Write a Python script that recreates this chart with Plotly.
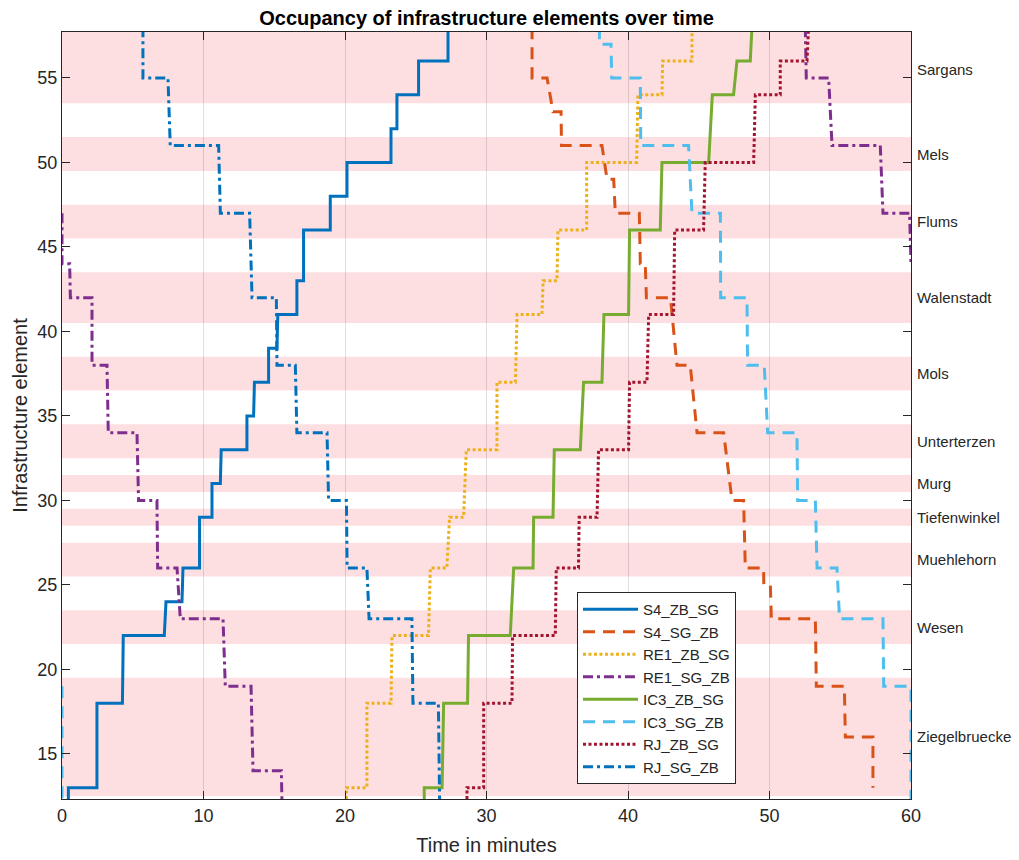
import plotly.graph_objects as go

# ---------------- data ----------------
series_names = ["S4_ZB_SG", "S4_SG_ZB", "RE1_ZB_SG", "RE1_SG_ZB",
                "IC3_ZB_SG", "IC3_SG_ZB", "RJ_ZB_SG", "RJ_SG_ZB"]

s4_zb_sg_t = [0.45, 0.45, 2.47, 2.47, 4.27, 4.33, 7.23, 7.35, 8.48, 8.55, 9.72, 9.72, 10.6, 10.6,
              11.19, 11.25, 13.07, 13.07, 13.54, 13.6, 14.6, 14.6, 15.19, 15.25, 16.6, 16.6, 17.07,
              17.07, 18.96, 18.96, 20.14, 20.14, 23.25, 23.25, 23.67, 23.67, 25.2, 25.2, 27.28, 27.28]
s4_zb_sg_e = [12, 13, 13, 18, 18, 22, 22, 24, 24, 26, 26, 29, 29, 31,
              31, 33, 33, 35, 35, 37, 37, 39, 39, 41, 41, 43, 43,
              46, 46, 48, 48, 50, 50, 52, 52, 54, 54, 56, 56, 58]

s4_sg_zb_t = [33.22, 33.22, 34.28, 34.7, 35.27, 35.3, 38.16, 38.52, 38.99, 39.1, 40.8, 40.87, 41.22,
              41.3, 43.0, 43.46, 44.4, 44.88, 46.76, 47.35, 48.17, 48.29, 49.58, 49.6, 50.06, 50.13,
              53.24, 53.31, 55.29, 55.36, 57.31, 57.31]
s4_sg_zb_e = [58, 55, 55, 53, 53, 51, 51, 49, 49, 47, 47, 44, 44,
              42, 42, 38, 38, 34, 34, 30, 30, 26, 26, 25, 25, 23,
              23, 19, 19, 16, 16, 13]

re1_zb_sg_t = [20.1, 20.1, 21.55, 21.55, 23.25, 23.32, 25.9, 26.03, 27.2, 27.39, 28.38, 28.57, 30.74,
               30.74, 32.04, 32.16, 33.92, 34.0, 34.98, 35.05, 37.08, 37.08, 40.61, 40.7, 42.4, 42.45,
               44.52, 44.52]
re1_zb_sg_e = [12, 13, 13, 18, 18, 22, 22, 26, 26, 29, 29, 33, 33,
               37, 37, 41, 41, 43, 43, 46, 46, 50, 50, 54, 54, 56,
               56, 58]

re1_sg_zb_t = [0.0, 0.0, 0.54, 0.59, 2.12, 2.12, 3.18, 3.27, 5.3, 5.41, 6.71, 6.76, 8.13, 8.36,
               11.38, 11.54, 13.36, 13.5, 15.5, 15.55, None,
               52.53, 52.6, 54.18, 54.42, 57.83, 58.02, 59.9, 60.0]
re1_sg_zb_e = [47, 44, 44, 42, 42, 38, 38, 34, 34, 30, 30, 26, 26, 23,
               23, 19, 19, 14, 14, 12, None,
               58, 55, 55, 51, 51, 47, 47, 44]

ic3_zb_sg_t = [25.6, 25.6, 26.86, 26.97, 28.66, 28.73, 31.68, 31.92, 33.29, 33.33, 34.7, 34.79, 36.63,
               36.86, 38.16, 38.3, 40.04, 40.11, 42.28, 42.4, 45.7, 45.96, 47.46, 47.7, 48.64, 48.76]
ic3_zb_sg_e = [12, 13, 13, 18, 18, 22, 22, 26, 26, 29, 29, 33, 33,
               37, 37, 41, 41, 46, 46, 50, 50, 54, 54, 56, 56, 58]

ic3_sg_zb_t = [0.0, 0.0, None,
               37.98, 37.98, 38.8, 38.85, 40.87, 40.9, 44.28, 44.52, 46.53, 46.55, 48.41, 48.45,
               49.63, 49.87, 51.94, 51.99, 53.24, 53.36, 54.77, 54.95, 58.02, 58.07, 60.0, 60.0]
ic3_sg_zb_e = [19, 12, None,
               58, 57, 57, 55, 55, 51, 51, 47, 47, 42, 42, 38,
               38, 34, 34, 30, 30, 26, 26, 23, 23, 19, 19, 12]

rj_zb_sg_t = [28.62, 28.62, 29.8, 29.8, 31.8, 31.84, 34.86, 34.93, 36.5, 36.55, 37.81, 37.92, 40.04,
              40.11, 41.34, 41.46, 43.22, 43.3, 45.34, 45.46, 48.88, 49.0, 50.76, 50.76, 52.65, 52.76]
rj_zb_sg_e = [12, 13, 13, 18, 18, 22, 22, 26, 26, 29, 29, 33, 33,
              37, 37, 41, 41, 46, 46, 50, 50, 54, 54, 56, 56, 58]

rj_sg_zb_t = [5.72, 5.72, 7.49, 7.65, 11.07, 11.19, 13.26, 13.43, 15.15, 15.19, 16.49, 16.6, 18.73,
              18.84, 20.1, 20.15, 21.55, 21.7, 24.73, 24.8, 26.6, 26.69]
rj_sg_zb_e = [58, 55, 55, 51, 51, 47, 47, 42, 42, 38, 38, 34, 34,
              30, 30, 26, 26, 23, 23, 18, 18, 12]

station_names = ["Sargans", "Mels", "Flums", "Walenstadt", "Mols", "Unterterzen",
                 "Murg", "Tiefenwinkel", "Muehlehorn", "Wesen", "Ziegelbruecke"]
station_lo = [53.5, 49.5, 45.5, 40.5, 36.5, 32.5, 30.5, 28.5, 25.5, 21.5, 12.5]
station_hi = [57.5, 51.5, 47.5, 43.5, 38.5, 34.5, 31.5, 29.5, 27.5, 23.5, 19.5]

x_ticks = [0, 10, 20, 30, 40, 50, 60]
y_ticks = [15, 20, 25, 30, 35, 40, 45, 50, 55]

# ---------------- styles ----------------
X_MIN, X_MAX = 0, 60
Y_MIN, Y_MAX = 12.33, 57.72

styles = [
    dict(color="#0072BD", dash="solid"),
    dict(color="#D95319", dash="12px,8px"),
    dict(color="#EDB120", dash="3px,2.5px"),
    dict(color="#7E2F8E", dash="10px,4px,3px,4px"),
    dict(color="#77AC30", dash="solid"),
    dict(color="#4DBEEE", dash="12px,8px"),
    dict(color="#A2142F", dash="3px,2.5px"),
    dict(color="#0072BD", dash="10px,4px,3px,4px"),
]
data_t = [s4_zb_sg_t, s4_sg_zb_t, re1_zb_sg_t, re1_sg_zb_t, ic3_zb_sg_t, ic3_sg_zb_t, rj_zb_sg_t, rj_sg_zb_t]
data_e = [s4_zb_sg_e, s4_sg_zb_e, re1_zb_sg_e, re1_sg_zb_e, ic3_zb_sg_e, ic3_sg_zb_e, rj_zb_sg_e, rj_sg_zb_e]

FONT = "Liberation Sans, Arial, Helvetica, sans-serif"
TXT = "#262626"

fig = go.Figure()
for name, t, e, st in zip(series_names, data_t, data_e, styles):
    fig.add_trace(go.Scatter(x=t, y=e, mode="lines", name=name, connectgaps=False,
                             line=dict(color=st["color"], dash=st["dash"], width=3)))

# station bands
for i, (lo, hi) in enumerate(zip(station_lo, station_hi)):
    top = Y_MAX if i == 0 else hi
    fig.add_shape(type="rect", xref="x", yref="y", x0=X_MIN, x1=X_MAX, y0=lo, y1=top,
                  fillcolor="#FDDFE1", line=dict(width=0), layer="below")
    fig.add_annotation(x=1, xref="paper", y=(lo + hi) / 2, yref="y", text=station_names[i],
                       showarrow=False, xanchor="left", yanchor="middle", xshift=4,
                       font=dict(family=FONT, size=15, color=TXT))

fig.update_layout(
    width=1019, height=860,
    margin=dict(l=62, r=108, t=32, b=61, autoexpand=False),
    paper_bgcolor="white", plot_bgcolor="white",
    font=dict(family=FONT, color=TXT),
    title=dict(text="<b>Occupancy of infrastructure elements over time</b>",
               x=0.5, xref="paper", xanchor="center", y=1 - 18 / 860, yref="container",
               yanchor="middle", font=dict(family=FONT, size=20, color="black")),
    showlegend=True,
    legend=dict(x=0.6066, y=0.270, xanchor="left", yanchor="top", bgcolor="white",
                bordercolor=TXT, borderwidth=1, font=dict(family=FONT, size=15, color=TXT),
                itemwidth=55, tracegroupgap=0),
)
fig.update_xaxes(range=[X_MIN, X_MAX], tickvals=x_ticks, ticktext=[str(v) for v in x_ticks],
                 ticks="inside", ticklen=8, tickcolor=TXT, showline=True, linecolor=TXT, linewidth=1,
                 mirror="allticks", showgrid=True, gridcolor="rgba(38,38,38,0.15)", gridwidth=1,
                 zeroline=False, tickfont=dict(family=FONT, size=18, color=TXT), automargin=False,
                 title=dict(text="Time in minutes", font=dict(family=FONT, size=20, color=TXT), standoff=13))
fig.update_yaxes(range=[Y_MIN, Y_MAX], tickvals=y_ticks, ticktext=[str(v) for v in y_ticks],
                 ticks="inside", ticklen=8, tickcolor=TXT, showline=True, linecolor=TXT, linewidth=1,
                 mirror="allticks", showgrid=False, zeroline=False, automargin=False,
                 tickfont=dict(family=FONT, size=18, color=TXT),
                 title=dict(text="Infrastructure element", font=dict(family=FONT, size=20, color=TXT), standoff=4))

fig.write_html("out.html")
